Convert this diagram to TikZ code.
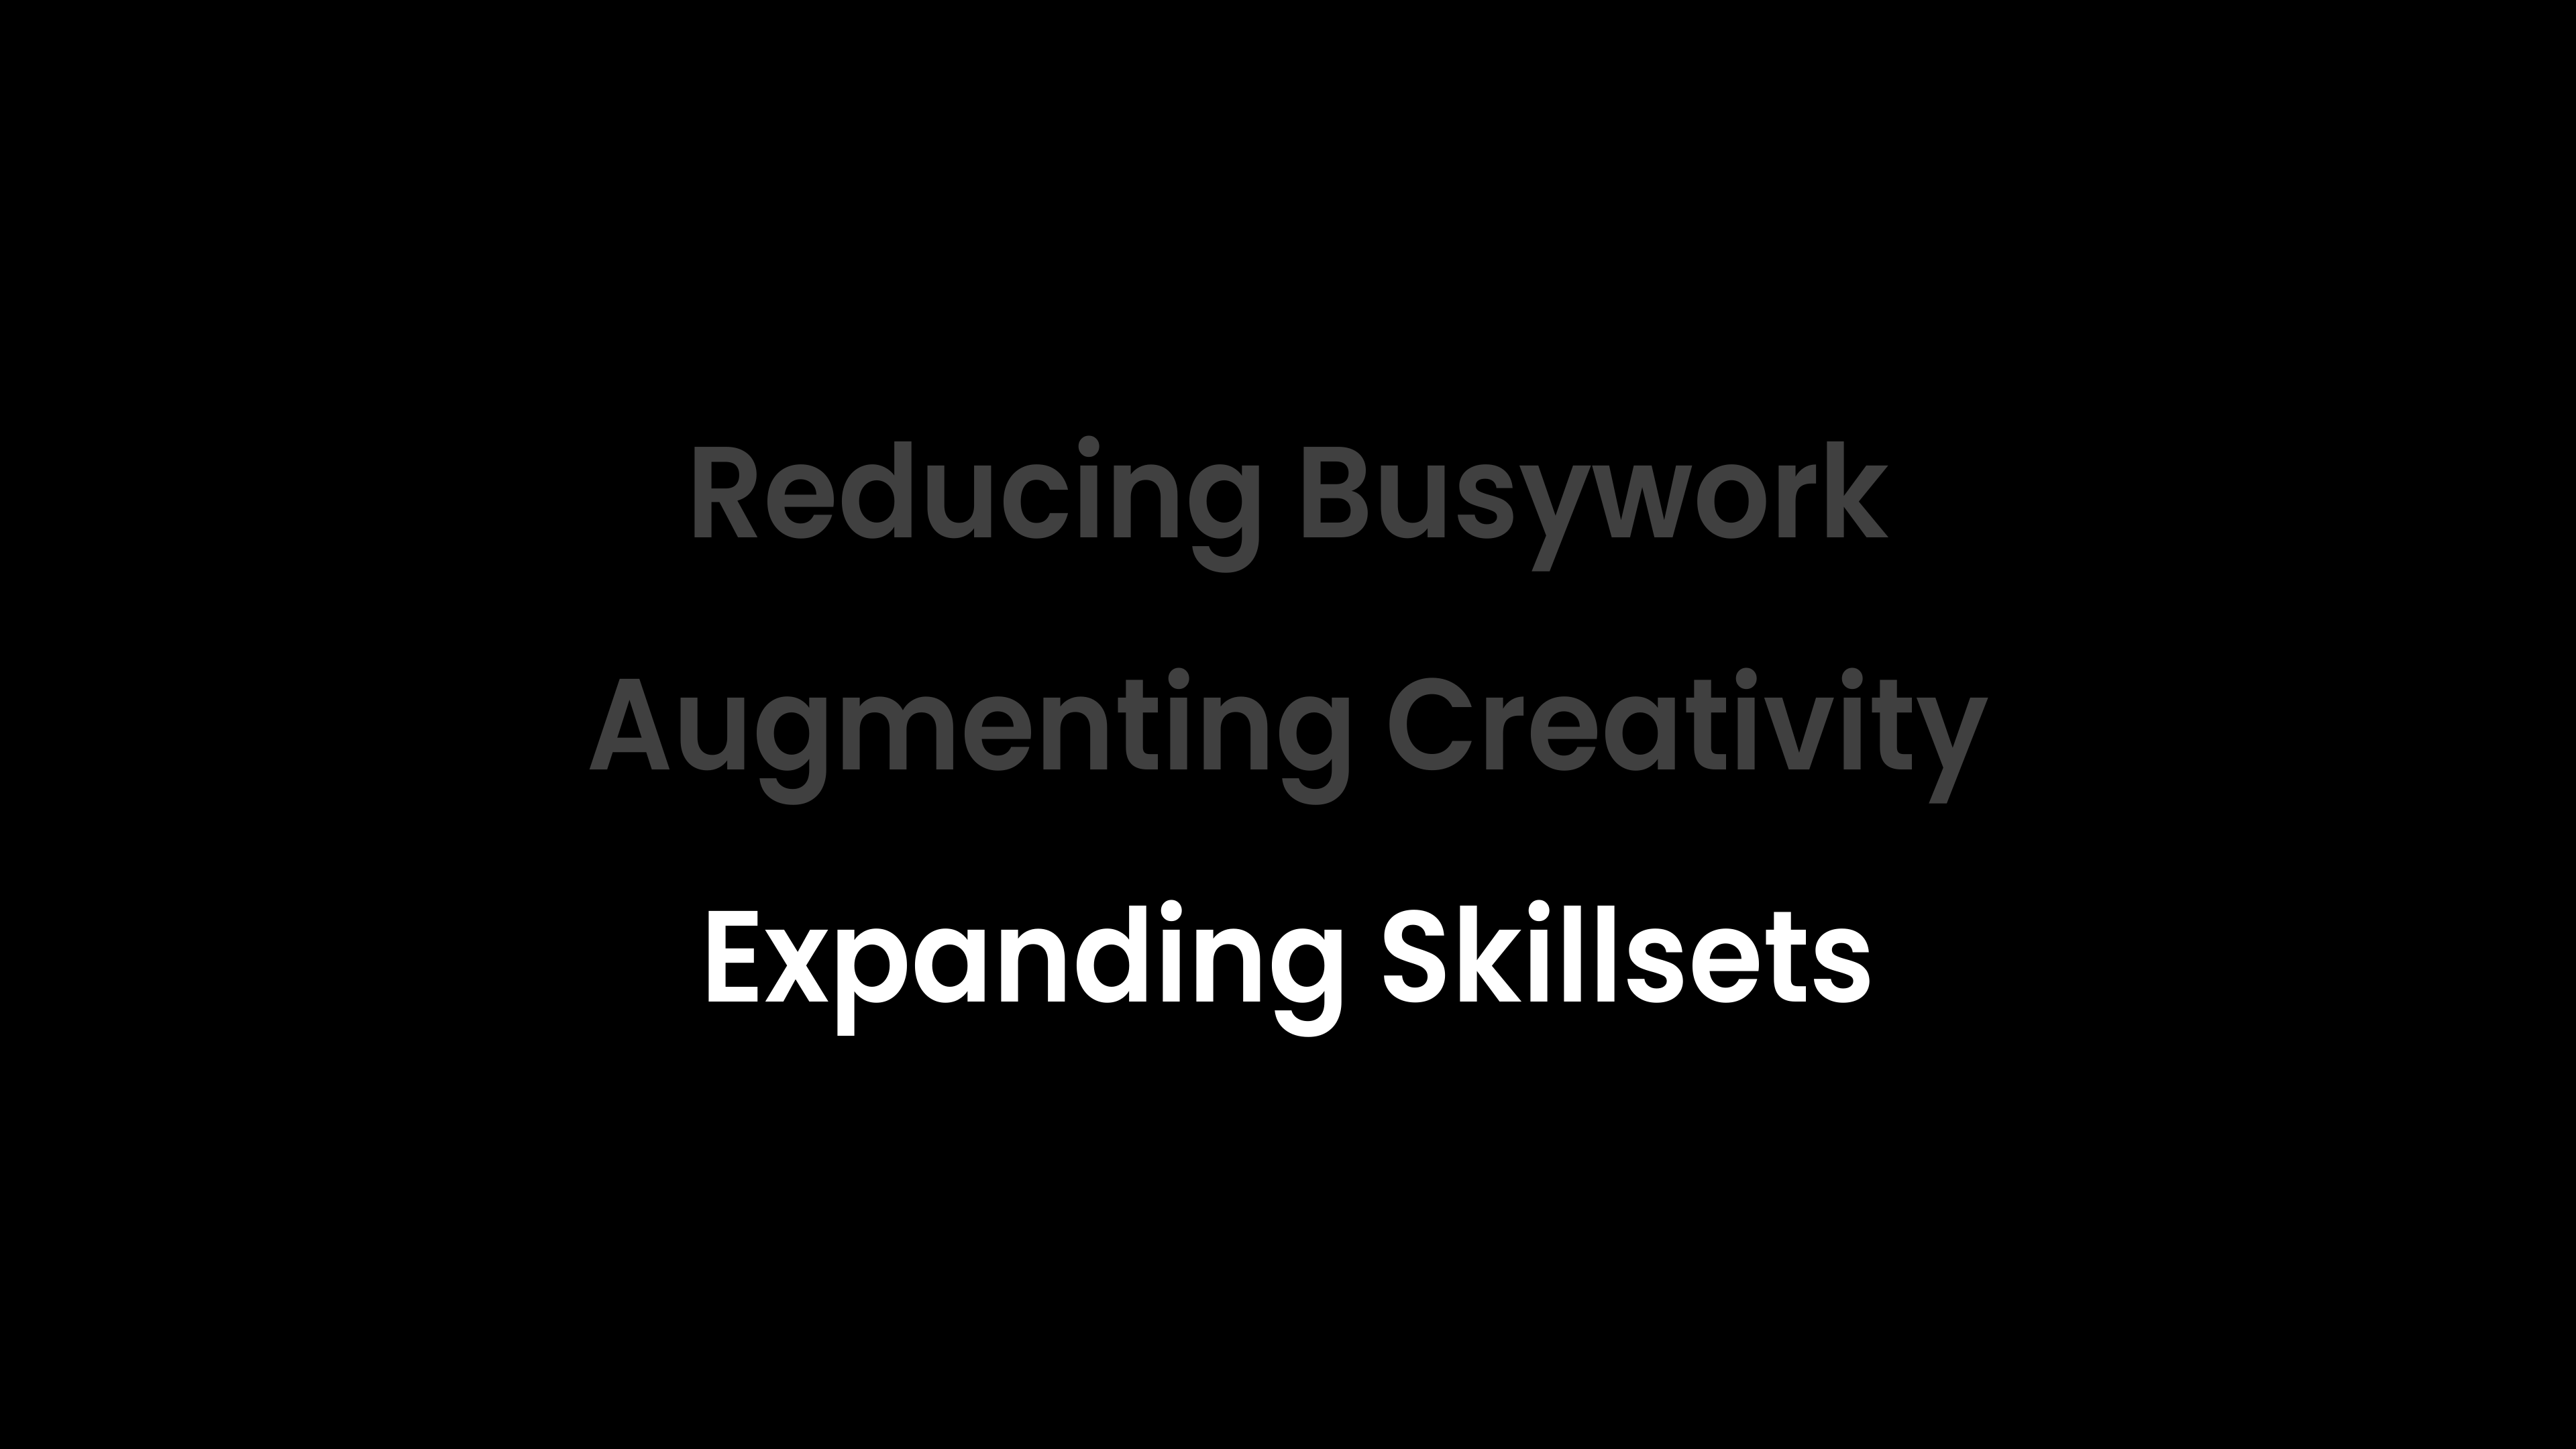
\documentclass[tikz,border=0pt]{standalone}
\usepackage{fontspec}
\setmainfont{Poppins}[UprightFont={* Medium},BoldFont={* SemiBold}]
\begin{document}
\begin{tikzpicture}
\definecolor{dimgray}{HTML}{404040}
\tikzset{line/.style={anchor=base,inner sep=0pt,xscale=0.93,font=\fontsize{55pt}{60pt}\selectfont\bfseries}}
\fill[black] (0,0) rectangle (38.4,-21.6);
\useasboundingbox (0,0) rectangle (38.4,-21.6);
\node[line,text=dimgray] (l1) at (19.2,-8.01) {Reducing Busywork};
\node[line,text=dimgray] (l2) at (19.2,-11.47) {Augmenting Creativity};
\node[line,text=white] (l3) at (19.2,-14.93) {Expanding Skillsets};
\end{tikzpicture}
\end{document}
